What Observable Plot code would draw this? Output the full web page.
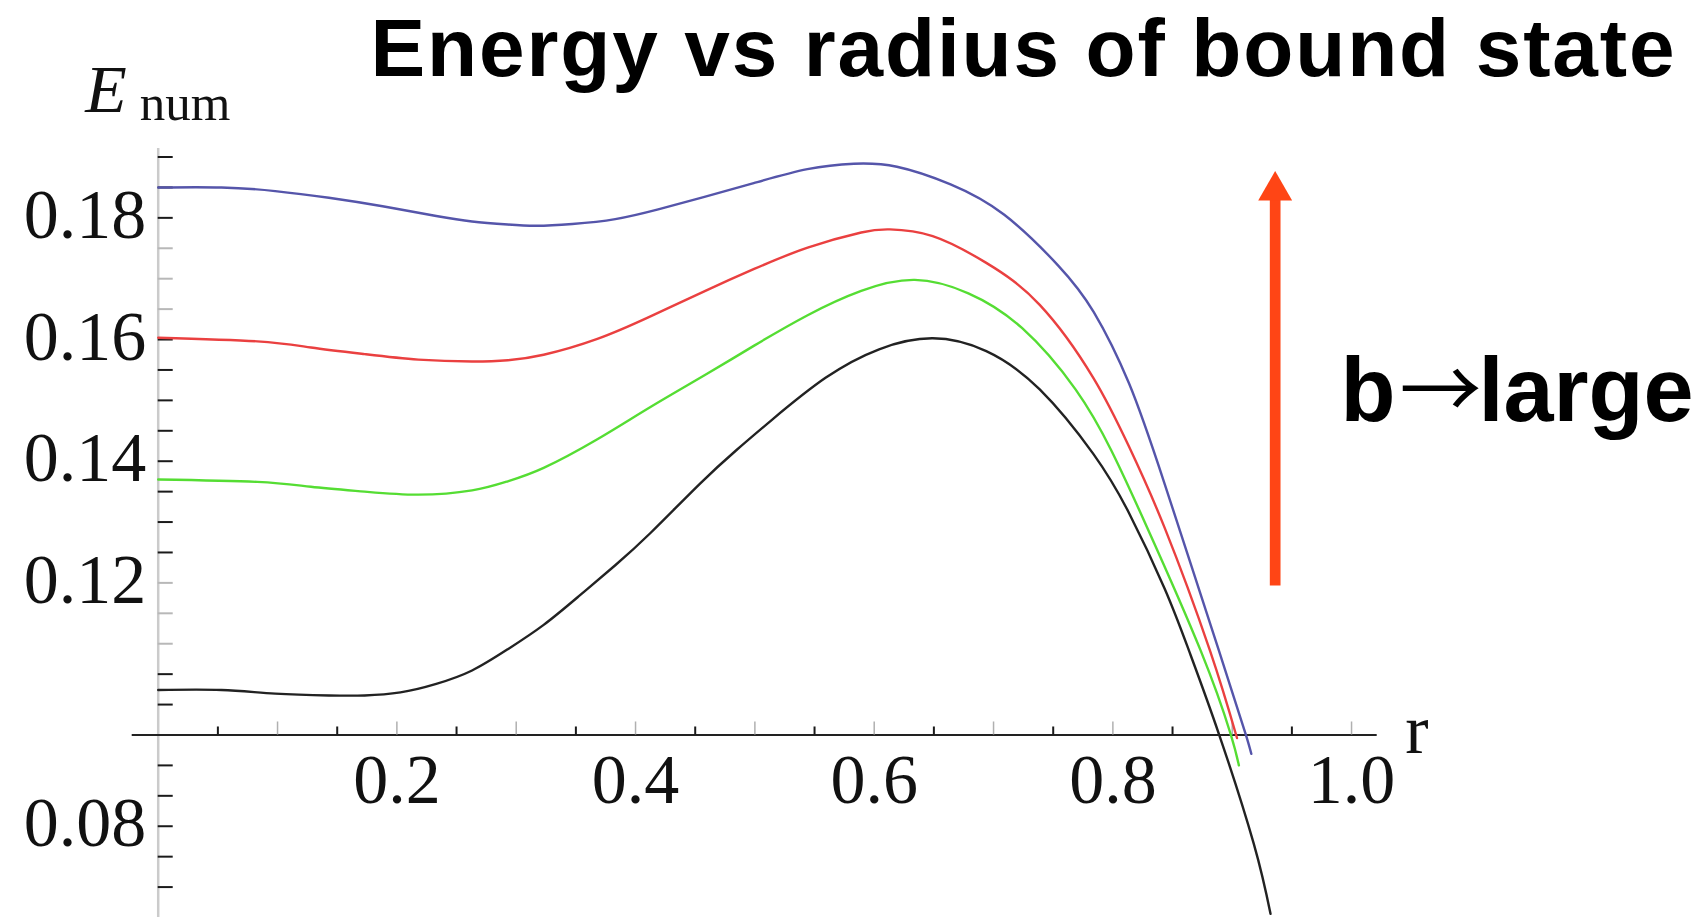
<!DOCTYPE html>
<html>
<head>
<meta charset="utf-8">
<script src="https://cdn.jsdelivr.net/npm/d3@7"></script>
<script src="https://cdn.jsdelivr.net/npm/@observablehq/plot@0.6"></script>
<style>
  html, body { margin: 0; padding: 0; background: #fff; }
  #chart svg { display: block; }
</style>
</head>
<body>
<div id="chart"></div>
<script>
// Numerical bound-state energy E_num as a function of the radius r,
// one curve per value of b (black = smallest b, blue = largest b).
const seriesNames  = ["b1", "b2", "b3", "b4"];
const seriesColors = ["#222222", "#55dd33", "#ea4040", "#5555aa"];

const rB1 = [0, 0.053, 0.098, 0.143, 0.173, 0.203, 0.233, 0.263, 0.293, 0.323, 0.353, 0.383, 0.4125, 0.4545, 0.4844, 0.5143, 0.5592, 0.6041, 0.649, 0.6939, 0.7387, 0.7836, 0.8135, 0.8435, 0.8637, 0.8888, 0.9181, 0.9321];
const eB1 = [0.1024, 0.1024, 0.1018, 0.1015, 0.1015, 0.1020, 0.1034, 0.1056, 0.1091, 0.1131, 0.1179, 0.1229, 0.1282, 0.1364, 0.1418, 0.1468, 0.1537, 0.1584, 0.1602, 0.1581, 0.1518, 0.1412, 0.1315, 0.1190, 0.1089, 0.0952, 0.0771, 0.0656];

const rB2 = [0, 0.083, 0.128, 0.173, 0.218, 0.263, 0.293, 0.323, 0.368, 0.4125, 0.4585, 0.4994, 0.5442, 0.5891, 0.634, 0.6789, 0.7238, 0.7687, 0.7986, 0.8285, 0.8735, 0.8986, 0.9056];
const eB2 = [0.1370, 0.1366, 0.1358, 0.1350, 0.1345, 0.1352, 0.1367, 0.1389, 0.1436, 0.1489, 0.1542, 0.1590, 0.1640, 0.1680, 0.1698, 0.1676, 0.1619, 0.1518, 0.1418, 0.1292, 0.1089, 0.0952, 0.0900];

const rB3 = [0, 0.083, 0.128, 0.173, 0.218, 0.263, 0.293, 0.323, 0.368, 0.4125, 0.4585, 0.4994, 0.5442, 0.5891, 0.6131, 0.649, 0.6939, 0.7387, 0.7836, 0.8135, 0.8435, 0.8813, 0.9040];
const eB3 = [0.1603, 0.1597, 0.1587, 0.1576, 0.1567, 0.1564, 0.1566, 0.1575, 0.1601, 0.1638, 0.1680, 0.1716, 0.1751, 0.1776, 0.1781, 0.1770, 0.1726, 0.1657, 0.1537, 0.1424, 0.1290, 0.1089, 0.0945];

const rB4 = [0, 0.053, 0.098, 0.143, 0.188, 0.233, 0.263, 0.293, 0.317, 0.347, 0.383, 0.419, 0.457, 0.499, 0.544, 0.583, 0.619, 0.664, 0.709, 0.754, 0.784, 0.8135, 0.8435, 0.8888, 0.9112, 0.916];
const eB4 = [0.1850, 0.1850, 0.1844, 0.1833, 0.1819, 0.1803, 0.1794, 0.1789, 0.1787, 0.1790, 0.1798, 0.1814, 0.1834, 0.1857, 0.1880, 0.1889, 0.1884, 0.1855, 0.1805, 0.1722, 0.1645, 0.1528, 0.1362, 0.1089, 0.0952, 0.0919];

// Axis layout (axes cross at r = 0, E = 0.095)
const xDomain = [-0.0218, 1.0215];
const yDomain = [0.065, 0.1914];
const axisOriginX = 0;
const axisOriginY = 0.095;

const xMajorTicks = [0.1, 0.2, 0.3, 0.4, 0.5, 0.6, 0.7, 0.8, 0.9, 1.0];
const xMinorTicks = [0.05, 0.15, 0.25, 0.35, 0.45, 0.55, 0.65, 0.75, 0.85, 0.95];
const xTickLabels = ["0.2", "0.4", "0.6", "0.8", "1.0"];
const xTickLabelValues = [0.2, 0.4, 0.6, 0.8, 1.0];

const yTicksDark  = [0.07, 0.075, 0.08, 0.085, 0.09, 0.1, 0.105, 0.125, 0.13, 0.135, 0.14, 0.145, 0.15, 0.155, 0.16, 0.18, 0.185, 0.19];
const yTicksFaint = [0.11, 0.115, 0.12, 0.165, 0.17, 0.175];
const yTickLabels = ["0.08", "0.12", "0.14", "0.16", "0.18"];
const yTickLabelValues = [0.08, 0.12, 0.14, 0.16, 0.18];

// "b → large" arrow: drawn at r = arrowR from E = arrowFrom up to E = arrowTo
const arrowR = [0.936];
const arrowFrom = 0.1195;
const arrowTo = 0.1877;
const arrowColor = "#ff4515";

const titleText = "Energy vs radius of bound state";
const annotationParts = ["b", "\u2192", "large"];
const annotationText = annotationParts.join("");

// Long table built from the series arrays
const rows = [];
[[rB1, eB1], [rB2, eB2], [rB3, eB3], [rB4, eB4]].forEach(([rs, es], k) => {
  rs.forEach((r, i) => rows.push({series: seriesNames[k], r, E: es[i]}));
});

const serif = "'Liberation Serif', 'DejaVu Serif', serif";
const sans = "'Liberation Sans', Arial, sans-serif";

const chart = Plot.plot({
  width: 1705,
  height: 917,
  margin: 0,
  style: {background: "#fff", overflow: "visible"},
  x: {domain: xDomain, range: [131.7, 1376.7], axis: null},
  y: {domain: yDomain, range: [917, 148], axis: null},
  color: {domain: seriesNames, range: seriesColors},
  marks: [
    // vertical axis line (light gray) and its ticks pointing right
    Plot.ruleX([axisOriginX], {y1: yDomain[0], y2: yDomain[1], stroke: "#cbcbcb", strokeWidth: 2.5}),
    Plot.ruleY(yTicksFaint, {y: d => d, x1: axisOriginX, x2: axisOriginX, insetRight: -15, stroke: "#b8b8b8", strokeWidth: 2}),
    Plot.ruleY(yTicksDark, {y: d => d, x1: axisOriginX, x2: axisOriginX, insetRight: -15, stroke: "#1a1a1a", strokeWidth: 2}),

    // horizontal axis line with ticks pointing up
    Plot.ruleY([axisOriginY], {x1: xDomain[0], x2: xDomain[1], stroke: "#222", strokeWidth: 2}),
    Plot.ruleX(xMajorTicks, {x: d => d, y1: axisOriginY, y2: axisOriginY, insetTop: -13, stroke: "#b0b0b0", strokeWidth: 1.5}),
    Plot.ruleX(xMinorTicks, {x: d => d, y1: axisOriginY, y2: axisOriginY, insetTop: -8, stroke: "#1a1a1a", strokeWidth: 2}),

    // tick labels
    Plot.text(yTickLabelValues, {
      x: axisOriginX, y: d => d, text: (d, i) => yTickLabels[i],
      textAnchor: "end", lineAnchor: "bottom", dx: -12, dy: 20,
      fontFamily: serif, fontSize: 70, fill: "#111"
    }),
    Plot.text(xTickLabelValues, {
      x: d => d, y: axisOriginY, text: (d, i) => xTickLabels[i],
      textAnchor: "middle", lineAnchor: "bottom", dy: 68.4,
      fontFamily: serif, fontSize: 70, fill: "#111"
    }),

    // axis titles
    Plot.text(["r"], {
      x: xDomain[1], y: axisOriginY, text: d => d,
      textAnchor: "start", lineAnchor: "bottom", dx: 28, dy: 18.5,
      fontFamily: serif, fontSize: 70, fill: "#111"
    }),
    Plot.text(["E"], {
      x: axisOriginX, y: yDomain[1], text: d => d,
      textAnchor: "start", lineAnchor: "bottom", dx: -73, dy: -36.3,
      fontFamily: serif, fontStyle: "italic", fontSize: 68, fill: "#111"
    }),
    Plot.text(["num"], {
      x: axisOriginX, y: yDomain[1], text: d => d,
      textAnchor: "start", lineAnchor: "bottom", dx: -18.5, dy: -28.5,
      fontFamily: serif, fontSize: 51, fill: "#111"
    }),

    // curves
    Plot.line(rows, {x: "r", y: "E", z: "series", stroke: "series", strokeWidth: 2.4, curve: "natural"}),

    // arrow: shaft + filled triangular head
    Plot.ruleX(arrowR, {x: d => d, y1: arrowTo, y2: arrowFrom, insetTop: 24, stroke: arrowColor, strokeWidth: 10.7}),
    Plot.dot(arrowR, {x: d => d, y: arrowTo, dy: 19.6, symbol: "triangle", r: 12.6, fill: arrowColor, stroke: "none"}),

    // title and annotation
    Plot.text([titleText], {
      frameAnchor: "top-left", text: d => d, textAnchor: "start", lineAnchor: "bottom",
      dx: 370, dy: 75.5, fontFamily: sans, fontWeight: "bold", fontSize: 82, fill: "#000"
    }),
    Plot.text([annotationText], {
      frameAnchor: "top-left", text: d => d, textAnchor: "start", lineAnchor: "bottom",
      dx: 1340, dy: 420, fontFamily: sans, fontWeight: "bold", fontSize: 90, fill: "#000"
    })
  ]
});

const svgNS = "http://www.w3.org/2000/svg";
const texts = [...chart.querySelectorAll("text")];

// stretch the headline to its set width
const title = texts.find(t => t.textContent === titleText);
if (title) {
  title.setAttribute("textLength", 1304);
  title.setAttribute("lengthAdjust", "spacing");
}

// the annotation uses a thin, mid-height arrow between the two words
const ann = texts.find(t => t.textContent === annotationText);
if (ann) {
  ann.textContent = "";
  const spans = [
    {text: annotationParts[0], attrs: {x: 0, y: 0}},
    {text: annotationParts[1], attrs: {x: 59, y: -2, "font-family": "'Noto Sans CJK JP', 'DejaVu Sans', sans-serif", "font-weight": 400, "font-size": 82}},
    {text: annotationParts[2], attrs: {x: 138, y: 0}}
  ];
  for (const s of spans) {
    const ts = document.createElementNS(svgNS, "tspan");
    for (const [k, v] of Object.entries(s.attrs)) ts.setAttribute(k, v);
    ts.textContent = s.text;
    ann.appendChild(ts);
  }
}

document.getElementById("chart").appendChild(chart);
</script>
</body>
</html>
